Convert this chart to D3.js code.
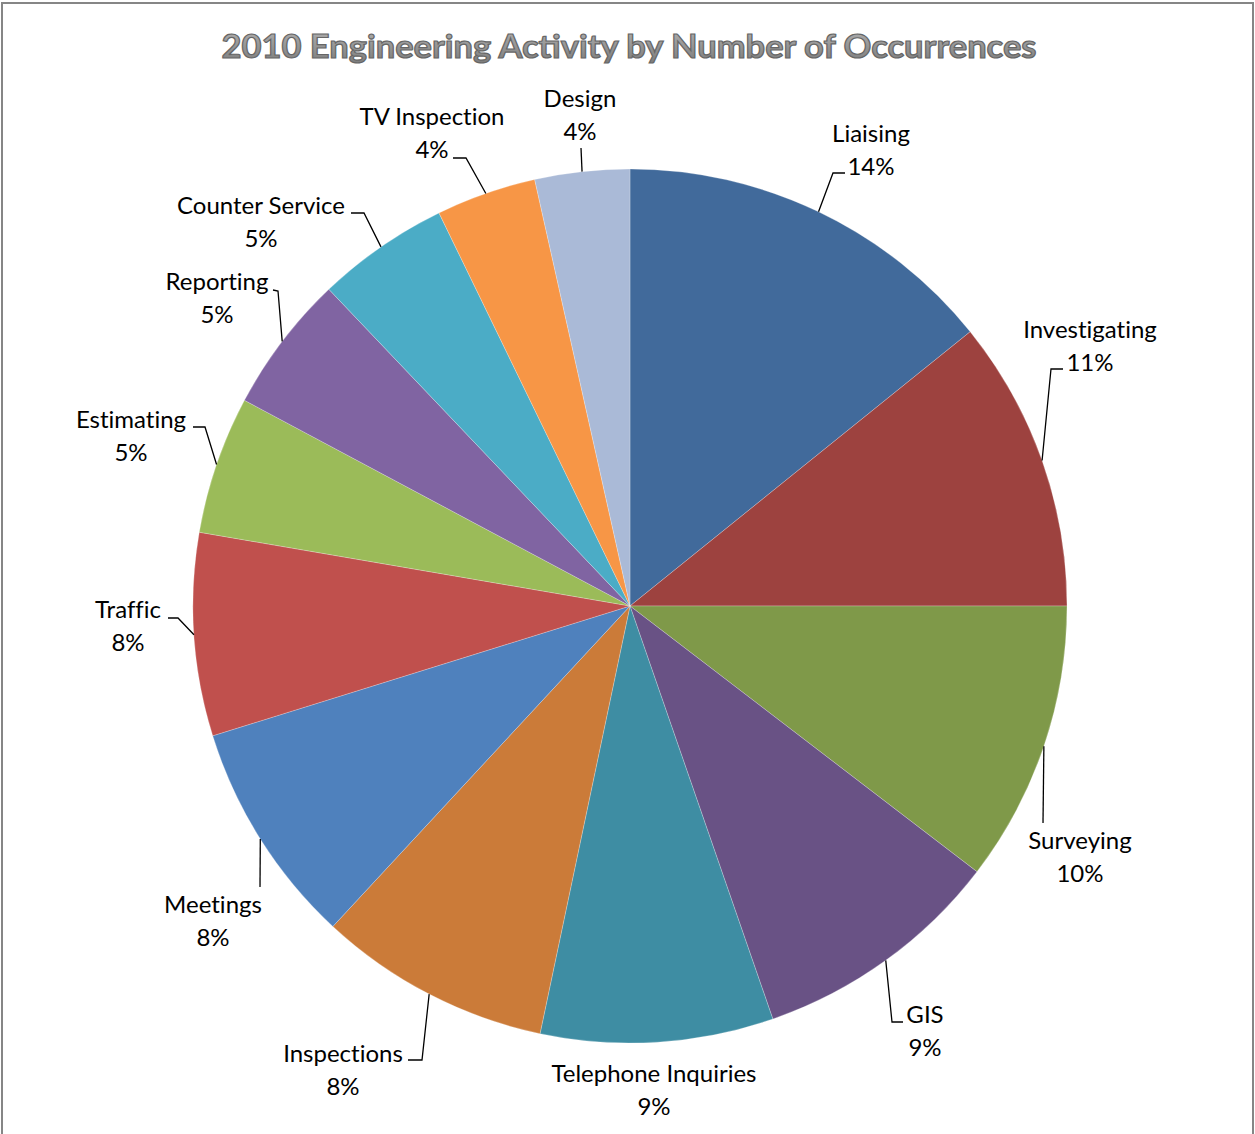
<!DOCTYPE html>
<html lang="en">
<head>
  <meta charset="UTF-8">
  <title>2010 Engineering Activity by Number of Occurrences</title>
  <script src="https://d3js.org/d3.v7.min.js"></script>
  <style>
    body { margin: 0; background: #fff; }
    .label { font-family: Lato, "Liberation Sans", sans-serif; font-size: 24px; fill: #000; font-variant-ligatures: none; }
    .title { font-family: Lato, "Liberation Sans", sans-serif; font-size: 33px; font-weight: bold; }
    .leader { fill: none; stroke: #000; stroke-width: 1.3; }
  </style>
</head>
<body>
  <div id="chart"></div>
  <script>
    // data (share of occurrences, %)
    const categories = ["Liaising", "Investigating", "Surveying", "GIS", "Telephone Inquiries",
      "Inspections", "Meetings", "Traffic", "Estimating", "Reporting", "Counter Service",
      "TV Inspection", "Design"];
    const shares = [14.2, 10.8, 10.4, 9.3, 8.6, 8.6, 8.3, 7.5, 5.1, 5.1, 4.9, 3.7, 3.5];
    const pctLabels = ["14%", "11%", "10%", "9%", "9%", "8%", "8%", "8%", "5%", "5%", "5%", "4%", "4%"];
    const colors = ["#416A9B", "#9D423F", "#7F9949", "#695285", "#3E8DA3", "#CB7B39",
      "#4F81BD", "#C0504D", "#9BBB59", "#8064A2", "#4BACC6", "#F79646", "#AABAD7"];

    // label placement (text centre x, first baseline y) and leader bends
    const labelPos = [
      { x: 871, y: 142, bend: [[833, 173], [845, 173]] },
      { x: 1090, y: 338, bend: [[1051, 369], [1063, 369]] },
      { x: 1080, y: 849, bend: [[1043, 823]] },
      { x: 925, y: 1023, bend: [[892, 1022], [903, 1022]] },
      { x: 654, y: 1082, bend: null },
      { x: 343, y: 1062, bend: [[422, 1060], [408, 1060]] },
      { x: 213, y: 913, bend: [[260, 887]] },
      { x: 128, y: 618, bend: [[178, 618], [168, 618]] },
      { x: 131, y: 428, bend: [[205, 427], [193, 427]] },
      { x: 217, y: 290, bend: [[278, 291], [273, 290]] },
      { x: 261, y: 214, bend: [[364, 213], [351, 213]] },
      { x: 432, y: 125, bend: [[466, 158], [453, 158]] },
      { x: 580, y: 107, bend: [[581, 148]] }
    ];

    const W = 1255, H = 1134;
    const cx = 630, cy = 606, r = 437;

    const svg = d3.select("#chart").append("svg")
      .attr("width", W).attr("height", H);

    // chart border
    svg.append("rect")
      .attr("x", 2).attr("y", 3)
      .attr("width", W - 4).attr("height", H + 10)
      .attr("fill", "#fff")
      .attr("stroke", "#868686")
      .attr("stroke-width", 2);

    // title gradient
    const grad = svg.append("defs").append("linearGradient")
      .attr("id", "tg").attr("x1", 0).attr("y1", 0).attr("x2", 0).attr("y2", 1);
    grad.append("stop").attr("offset", "0%").attr("stop-color", "#b5b5b5");
    grad.append("stop").attr("offset", "100%").attr("stop-color", "#7a7a7a");

    svg.append("text")
      .attr("class", "title")
      .attr("x", 629).attr("y", 58)
      .attr("text-anchor", "middle")
      .attr("textLength", 815)
      .attr("lengthAdjust", "spacingAndGlyphs")
      .attr("fill", "url(#tg)")
      .attr("stroke", "#666")
      .attr("stroke-width", 1.2)
      .text("2010 Engineering Activity by Number of Occurrences");

    const data = categories.map((c, i) => ({ name: c, value: shares[i], pct: pctLabels[i], i }));

    const pie = d3.pie().sort(null).value(d => d.value);
    const arc = d3.arc().innerRadius(0).outerRadius(r);
    const arcs = pie(data);

    const g = svg.append("g").attr("transform", `translate(${cx},${cy})`);

    g.selectAll("path.slice")
      .data(arcs)
      .join("path")
      .attr("class", "slice")
      .attr("d", arc)
      .attr("fill", d => colors[d.data.i])
      .attr("stroke", "#fff")
      .attr("stroke-width", 0.4)
      .attr("stroke-opacity", 0.6);

    // leader lines: from slice edge at its mid angle to the label
    arcs.forEach(d => {
      const lp = labelPos[d.data.i];
      if (!lp.bend) return;
      const a = (d.startAngle + d.endAngle) / 2;
      const pts = [[cx + r * Math.sin(a), cy - r * Math.cos(a)]].concat(lp.bend);
      svg.append("path")
        .attr("class", "leader")
        .attr("d", d3.line()(pts));
    });

    // labels
    arcs.forEach(d => {
      const lp = labelPos[d.data.i];
      const t = svg.append("text")
        .attr("class", "label")
        .attr("text-anchor", "middle");
      t.append("tspan").attr("x", lp.x).attr("y", lp.y).text(d.data.name);
      t.append("tspan").attr("x", lp.x).attr("y", lp.y + 32.5).text(d.data.pct);
    });
  </script>
</body>
</html>
